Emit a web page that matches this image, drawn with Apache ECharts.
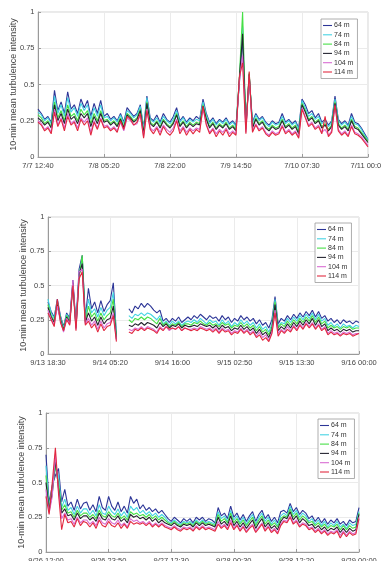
<!DOCTYPE html>
<html>
<head>
<meta charset="utf-8">
<script src="https://cdn.jsdelivr.net/npm/echarts@6/dist/echarts.min.js"></script>
<style>
  html, body { margin: 0; padding: 0; background: #fff; }
  #chart { width: 381px; height: 561px; }
</style>
</head>
<body>
<div id="chart"></div>
<script>
// legend names (measurement heights)
const heights = ['64 m', '74 m', '84 m', '94 m', '104 m', '114 m'];

// x tick labels, one every 20 samples
const ticksA = ['7/7 12:40', '7/8 05:20', '7/8 22:00', '7/9 14:50', '7/10 07:30', '7/11 00:00'];
const ticksB = ['9/13 18:30', '9/14 05:20', '9/14 16:00', '9/15 02:50', '9/15 13:30', '9/16 00:00'];
const ticksC = ['9/26 12:00', '9/26 23:50', '9/27 12:30', '9/28 00:30', '9/28 12:20', '9/29 00:00'];

// panel A: 7/7 - 7/11
const a64 = [0.33,0.30,0.26,0.28,0.24,0.46,0.32,0.38,0.30,0.45,
  0.33,0.36,0.30,0.40,0.34,0.39,0.28,0.37,0.30,0.39,
  0.28,0.30,0.26,0.28,0.25,0.30,0.24,0.34,0.31,0.28,
  0.30,0.36,0.20,0.42,0.27,0.25,0.29,0.24,0.30,0.26,
  0.24,0.28,0.34,0.25,0.28,0.24,0.27,0.25,0.28,0.26,
  0.40,0.30,0.24,0.27,0.23,0.26,0.24,0.27,0.23,0.25,
  0.22,0.50,0.82,0.22,0.55,0.24,0.30,0.26,0.28,0.24,
  0.22,0.25,0.23,0.24,0.30,0.24,0.26,0.23,0.25,0.20,
  0.40,0.36,0.30,0.32,0.27,0.30,0.24,0.26,0.22,0.25,
  0.42,0.26,0.23,0.25,0.22,0.30,0.24,0.23,0.20,0.16,0.12];
const a74 = [0.31,0.29,0.25,0.27,0.23,0.42,0.30,0.36,0.28,0.41,
  0.31,0.34,0.28,0.37,0.32,0.36,0.26,0.34,0.28,0.36,
  0.27,0.28,0.25,0.27,0.24,0.29,0.23,0.32,0.30,0.27,
  0.29,0.35,0.19,0.41,0.26,0.24,0.27,0.23,0.28,0.25,
  0.23,0.26,0.32,0.24,0.27,0.23,0.26,0.24,0.26,0.25,
  0.38,0.29,0.23,0.26,0.22,0.25,0.23,0.26,0.22,0.24,
  0.21,0.52,0.90,0.21,0.57,0.23,0.29,0.25,0.27,0.23,
  0.21,0.24,0.22,0.23,0.28,0.23,0.25,0.22,0.24,0.19,
  0.39,0.34,0.28,0.30,0.26,0.28,0.23,0.25,0.21,0.24,
  0.40,0.25,0.22,0.24,0.21,0.28,0.23,0.22,0.19,0.15,0.12];
const a84 = [0.29,0.27,0.23,0.25,0.21,0.38,0.27,0.32,0.25,0.36,
  0.28,0.30,0.25,0.33,0.29,0.32,0.23,0.30,0.25,0.32,
  0.25,0.26,0.23,0.25,0.22,0.27,0.21,0.30,0.28,0.25,
  0.27,0.33,0.17,0.38,0.24,0.22,0.25,0.21,0.26,0.23,
  0.21,0.24,0.30,0.22,0.25,0.21,0.24,0.22,0.24,0.23,
  0.36,0.27,0.21,0.24,0.20,0.23,0.21,0.24,0.20,0.22,
  0.19,0.54,1.00,0.20,0.58,0.21,0.27,0.23,0.25,0.21,
  0.19,0.22,0.20,0.21,0.26,0.21,0.23,0.20,0.22,0.17,
  0.37,0.32,0.26,0.28,0.24,0.26,0.21,0.23,0.19,0.22,
  0.38,0.23,0.20,0.22,0.19,0.26,0.21,0.20,0.17,0.14,0.11];
const a94 = [0.27,0.25,0.22,0.24,0.20,0.36,0.25,0.30,0.23,0.33,
  0.26,0.28,0.23,0.30,0.27,0.30,0.21,0.28,0.23,0.30,
  0.24,0.25,0.22,0.24,0.21,0.26,0.20,0.29,0.27,0.24,
  0.26,0.32,0.16,0.37,0.23,0.21,0.24,0.20,0.25,0.22,
  0.20,0.23,0.29,0.21,0.24,0.20,0.23,0.21,0.23,0.22,
  0.35,0.26,0.20,0.23,0.19,0.22,0.20,0.23,0.19,0.21,
  0.18,0.53,0.85,0.19,0.57,0.20,0.26,0.22,0.24,0.20,
  0.18,0.21,0.19,0.20,0.25,0.20,0.22,0.19,0.21,0.16,
  0.36,0.31,0.25,0.27,0.23,0.25,0.20,0.22,0.18,0.21,
  0.37,0.22,0.19,0.21,0.18,0.25,0.20,0.19,0.16,0.13,0.10];
const a104 = [0.25,0.23,0.19,0.21,0.17,0.33,0.22,0.27,0.20,0.30,
  0.23,0.25,0.20,0.27,0.24,0.27,0.17,0.25,0.20,0.27,
  0.21,0.22,0.19,0.21,0.18,0.24,0.18,0.27,0.25,0.22,
  0.23,0.29,0.14,0.33,0.20,0.18,0.21,0.17,0.22,0.19,
  0.17,0.20,0.26,0.18,0.21,0.17,0.20,0.18,0.20,0.19,
  0.33,0.23,0.17,0.20,0.16,0.19,0.17,0.20,0.16,0.18,
  0.16,0.52,0.70,0.17,0.56,0.18,0.23,0.19,0.21,0.17,
  0.15,0.18,0.16,0.17,0.22,0.17,0.19,0.16,0.18,0.14,
  0.34,0.28,0.22,0.24,0.20,0.22,0.17,0.19,0.15,0.18,
  0.35,0.19,0.16,0.18,0.15,0.22,0.17,0.16,0.14,0.11,0.08];
const a114 = [0.24,0.22,0.18,0.20,0.16,0.31,0.21,0.26,0.18,0.28,
  0.22,0.24,0.18,0.26,0.22,0.25,0.15,0.24,0.19,0.26,
  0.20,0.21,0.18,0.20,0.17,0.25,0.19,0.28,0.26,0.22,
  0.24,0.30,0.13,0.32,0.19,0.16,0.20,0.15,0.21,0.17,
  0.15,0.18,0.25,0.16,0.20,0.15,0.19,0.16,0.19,0.17,
  0.35,0.22,0.16,0.19,0.14,0.18,0.15,0.19,0.14,0.17,
  0.15,0.55,0.65,0.16,0.59,0.17,0.22,0.18,0.20,0.16,
  0.14,0.17,0.15,0.16,0.21,0.16,0.18,0.15,0.17,0.13,
  0.33,0.27,0.21,0.23,0.19,0.21,0.16,0.28,0.14,0.17,
  0.36,0.18,0.15,0.17,0.14,0.21,0.16,0.15,0.13,0.10,0.07];

// panel B: 9/13 - 9/16 (gap in the record after 9/14 05:20)
const b64 = [0.38,0.31,0.27,0.40,0.28,0.20,0.30,0.26,0.54,0.22,
  0.62,0.72,0.26,0.48,0.33,0.38,0.30,0.39,0.31,0.36,
  0.39,0.52,0.14,null,null,null,0.33,0.30,0.35,0.33,
  0.37,0.34,0.37,0.35,0.32,0.30,0.32,0.24,0.26,0.23,
  0.26,0.24,0.27,0.23,0.25,0.27,0.25,0.28,0.26,0.29,
  0.27,0.25,0.28,0.26,0.27,0.24,0.28,0.25,0.27,0.23,
  0.26,0.24,0.28,0.25,0.27,0.24,0.26,0.22,0.25,0.21,
  0.23,0.19,0.25,0.42,0.22,0.26,0.24,0.28,0.25,0.29,
  0.26,0.30,0.27,0.31,0.28,0.32,0.27,0.31,0.26,0.28,
  0.24,0.26,0.23,0.25,0.22,0.25,0.23,0.24,0.22,0.24,0.23];
const b74 = [0.40,0.30,0.26,0.38,0.27,0.19,0.29,0.25,0.50,0.21,
  0.58,0.70,0.25,0.40,0.30,0.33,0.27,0.34,0.28,0.32,
  0.34,0.45,0.13,null,null,null,0.28,0.26,0.29,0.28,
  0.30,0.28,0.30,0.29,0.27,0.25,0.28,0.22,0.24,0.21,
  0.24,0.22,0.24,0.21,0.23,0.24,0.23,0.25,0.23,0.26,
  0.24,0.22,0.25,0.23,0.24,0.21,0.25,0.22,0.24,0.20,
  0.23,0.21,0.25,0.22,0.24,0.21,0.23,0.19,0.22,0.18,
  0.20,0.16,0.22,0.40,0.20,0.23,0.22,0.26,0.23,0.27,
  0.24,0.28,0.25,0.29,0.26,0.30,0.25,0.29,0.24,0.26,
  0.21,0.23,0.20,0.22,0.19,0.22,0.20,0.21,0.19,0.21,0.20];
const b84 = [0.36,0.28,0.24,0.37,0.26,0.18,0.28,0.24,0.50,0.20,
  0.56,0.72,0.24,0.35,0.27,0.30,0.24,0.30,0.25,0.28,
  0.30,0.40,0.12,null,null,null,0.25,0.23,0.26,0.25,
  0.27,0.25,0.27,0.26,0.24,0.22,0.26,0.21,0.23,0.20,
  0.22,0.21,0.23,0.20,0.22,0.22,0.21,0.23,0.22,0.24,
  0.22,0.21,0.23,0.21,0.22,0.20,0.23,0.21,0.22,0.19,
  0.21,0.20,0.23,0.20,0.22,0.19,0.21,0.17,0.20,0.16,
  0.18,0.14,0.20,0.38,0.19,0.22,0.20,0.24,0.21,0.25,
  0.22,0.26,0.23,0.27,0.24,0.28,0.23,0.27,0.22,0.24,
  0.19,0.21,0.19,0.20,0.18,0.20,0.19,0.20,0.18,0.19,0.19];
const b94 = [0.34,0.27,0.23,0.36,0.25,0.17,0.27,0.23,0.52,0.19,
  0.58,0.66,0.23,0.30,0.24,0.27,0.21,0.27,0.22,0.25,
  0.26,0.35,0.11,null,null,null,0.21,0.20,0.22,0.21,
  0.23,0.21,0.23,0.22,0.21,0.19,0.23,0.20,0.22,0.19,
  0.21,0.20,0.22,0.19,0.21,0.20,0.20,0.21,0.20,0.22,
  0.21,0.20,0.21,0.19,0.21,0.18,0.21,0.19,0.20,0.17,
  0.19,0.18,0.21,0.18,0.20,0.17,0.19,0.15,0.18,0.14,
  0.16,0.12,0.18,0.36,0.17,0.20,0.18,0.22,0.19,0.23,
  0.20,0.24,0.21,0.25,0.22,0.26,0.21,0.25,0.20,0.22,
  0.17,0.19,0.17,0.18,0.16,0.18,0.17,0.18,0.16,0.17,0.17];
const b104 = [0.32,0.26,0.21,0.35,0.24,0.16,0.26,0.22,0.54,0.18,
  0.60,0.62,0.22,0.26,0.21,0.24,0.18,0.24,0.19,0.22,
  0.23,0.30,0.10,null,null,null,0.18,0.17,0.19,0.18,
  0.20,0.18,0.20,0.19,0.18,0.16,0.20,0.18,0.20,0.17,
  0.19,0.18,0.20,0.17,0.19,0.18,0.18,0.19,0.18,0.20,
  0.19,0.18,0.19,0.17,0.19,0.16,0.19,0.17,0.18,0.15,
  0.17,0.16,0.19,0.16,0.18,0.15,0.17,0.13,0.16,0.12,
  0.14,0.10,0.16,0.32,0.15,0.18,0.16,0.20,0.17,0.21,
  0.18,0.22,0.19,0.23,0.20,0.23,0.19,0.22,0.18,0.20,
  0.15,0.17,0.15,0.16,0.14,0.16,0.15,0.16,0.14,0.15,0.15];
const b114 = [0.30,0.25,0.20,0.40,0.23,0.17,0.25,0.21,0.50,0.17,
  0.55,0.60,0.21,0.24,0.19,0.22,0.16,0.22,0.17,0.20,
  0.21,0.28,0.09,null,null,null,0.16,0.15,0.18,0.17,
  0.19,0.17,0.19,0.18,0.17,0.15,0.19,0.17,0.20,0.18,
  0.19,0.18,0.20,0.17,0.19,0.18,0.17,0.18,0.17,0.19,
  0.18,0.17,0.18,0.16,0.18,0.15,0.18,0.16,0.17,0.14,
  0.16,0.15,0.18,0.15,0.17,0.14,0.16,0.12,0.14,0.10,
  0.12,0.09,0.15,0.30,0.13,0.17,0.15,0.18,0.16,0.20,
  0.17,0.21,0.18,0.22,0.19,0.22,0.18,0.21,0.17,0.19,
  0.14,0.16,0.14,0.15,0.13,0.15,0.14,0.15,0.13,0.14,0.15];

// panel C: 9/26 - 9/29
const c64 = [0.70,0.35,0.48,0.55,0.60,0.36,0.45,0.33,0.36,0.30,
  0.38,0.31,0.35,0.36,0.30,0.34,0.29,0.40,0.32,0.30,
  0.40,0.33,0.30,0.36,0.29,0.33,0.28,0.40,0.35,0.38,
  0.31,0.34,0.30,0.32,0.29,0.31,0.28,0.30,0.27,0.24,
  0.22,0.25,0.23,0.21,0.24,0.22,0.24,0.21,0.25,0.23,
  0.25,0.22,0.24,0.23,0.21,0.32,0.26,0.28,0.24,0.33,
  0.25,0.28,0.23,0.27,0.22,0.26,0.29,0.22,0.27,0.30,
  0.24,0.27,0.22,0.25,0.21,0.29,0.30,0.28,0.35,0.29,
  0.32,0.27,0.30,0.28,0.24,0.26,0.22,0.25,0.21,0.24,
  0.20,0.23,0.21,0.24,0.20,0.22,0.19,0.23,0.21,0.22,0.32];
const c74 = [0.62,0.33,0.46,0.60,0.55,0.32,0.38,0.30,0.32,0.27,
  0.33,0.28,0.31,0.31,0.27,0.30,0.26,0.34,0.28,0.27,
  0.33,0.29,0.27,0.31,0.26,0.29,0.25,0.33,0.30,0.32,
  0.28,0.30,0.27,0.29,0.26,0.28,0.25,0.27,0.25,0.22,
  0.21,0.23,0.21,0.20,0.22,0.21,0.22,0.20,0.23,0.21,
  0.23,0.21,0.22,0.21,0.20,0.29,0.24,0.26,0.22,0.30,
  0.23,0.26,0.21,0.25,0.20,0.24,0.27,0.20,0.25,0.28,
  0.22,0.25,0.20,0.23,0.19,0.26,0.28,0.26,0.33,0.27,
  0.30,0.25,0.28,0.26,0.22,0.24,0.20,0.23,0.19,0.22,
  0.18,0.21,0.19,0.22,0.18,0.20,0.17,0.21,0.19,0.20,0.29];
const c84 = [0.55,0.31,0.44,0.62,0.50,0.30,0.34,0.28,0.29,0.25,
  0.30,0.26,0.28,0.28,0.25,0.27,0.24,0.30,0.26,0.25,
  0.29,0.26,0.25,0.28,0.24,0.26,0.23,0.29,0.27,0.28,
  0.26,0.27,0.25,0.27,0.24,0.26,0.23,0.25,0.23,0.21,
  0.20,0.22,0.20,0.19,0.21,0.20,0.21,0.19,0.22,0.20,
  0.22,0.20,0.21,0.20,0.19,0.27,0.22,0.24,0.21,0.28,
  0.21,0.24,0.20,0.23,0.19,0.22,0.25,0.19,0.23,0.26,
  0.20,0.23,0.19,0.21,0.18,0.24,0.26,0.25,0.31,0.25,
  0.28,0.23,0.26,0.24,0.21,0.22,0.19,0.21,0.18,0.20,
  0.17,0.19,0.18,0.20,0.16,0.19,0.16,0.19,0.17,0.18,0.28];
const c94 = [0.50,0.30,0.42,0.66,0.46,0.28,0.31,0.26,0.27,0.23,
  0.28,0.24,0.26,0.26,0.23,0.25,0.22,0.28,0.24,0.23,
  0.27,0.24,0.23,0.26,0.22,0.24,0.21,0.27,0.25,0.26,
  0.24,0.25,0.23,0.25,0.22,0.24,0.21,0.23,0.21,0.20,
  0.19,0.21,0.19,0.18,0.20,0.19,0.20,0.18,0.21,0.19,
  0.21,0.19,0.20,0.19,0.18,0.25,0.20,0.22,0.19,0.26,
  0.19,0.22,0.18,0.21,0.17,0.20,0.23,0.17,0.21,0.24,
  0.18,0.21,0.17,0.19,0.16,0.22,0.25,0.24,0.29,0.23,
  0.26,0.21,0.24,0.22,0.19,0.20,0.17,0.19,0.16,0.18,
  0.15,0.17,0.16,0.18,0.14,0.17,0.14,0.17,0.15,0.16,0.27];
const c104 = [0.45,0.28,0.40,0.70,0.44,0.24,0.28,0.23,0.24,0.20,
  0.25,0.21,0.23,0.23,0.20,0.22,0.19,0.25,0.21,0.20,
  0.24,0.21,0.20,0.23,0.19,0.21,0.18,0.24,0.22,0.23,
  0.21,0.22,0.20,0.22,0.19,0.21,0.19,0.21,0.19,0.18,
  0.17,0.19,0.17,0.16,0.18,0.17,0.18,0.16,0.19,0.17,
  0.19,0.17,0.18,0.17,0.16,0.22,0.18,0.20,0.17,0.23,
  0.17,0.20,0.16,0.19,0.15,0.18,0.20,0.15,0.18,0.21,
  0.16,0.19,0.15,0.17,0.14,0.20,0.23,0.22,0.26,0.21,
  0.23,0.19,0.21,0.20,0.17,0.18,0.15,0.17,0.14,0.16,
  0.13,0.15,0.14,0.16,0.12,0.15,0.12,0.15,0.13,0.14,0.25];
const c114 = [0.40,0.27,0.50,0.75,0.42,0.16,0.27,0.21,0.22,0.18,
  0.24,0.19,0.22,0.21,0.18,0.21,0.17,0.23,0.19,0.18,
  0.22,0.19,0.18,0.21,0.17,0.20,0.17,0.22,0.20,0.21,
  0.20,0.21,0.19,0.21,0.18,0.20,0.18,0.20,0.18,0.17,
  0.16,0.18,0.16,0.15,0.17,0.16,0.17,0.15,0.18,0.16,
  0.18,0.16,0.17,0.16,0.15,0.20,0.17,0.19,0.16,0.21,
  0.16,0.19,0.15,0.18,0.14,0.17,0.19,0.14,0.17,0.20,
  0.15,0.18,0.14,0.16,0.13,0.19,0.22,0.21,0.25,0.20,
  0.22,0.18,0.20,0.19,0.16,0.17,0.14,0.16,0.13,0.15,
  0.12,0.14,0.13,0.15,0.10,0.14,0.11,0.14,0.12,0.13,0.24];

const palette = ['#2c3597', '#43d3e3', '#45df45', '#23232e', '#d86ad2', '#e2283f'];
const font = "'Liberation Sans', Arial, sans-serif";

const panels = [
  { ticks: ticksA, data: [a64, a74, a84, a94, a104, a114],
    grid: { left: 38, top: 12, width: 330, height: 145 }, legend: { left: 321, top: 19 } },
  { ticks: ticksB, data: [b64, b74, b84, b94, b104, b114],
    grid: { left: 48, top: 217, width: 311, height: 137 }, legend: { left: 315, top: 223 } },
  { ticks: ticksC, data: [c64, c74, c84, c94, c104, c114],
    grid: { left: 46, top: 413, width: 313, height: 139 }, legend: { left: 318, top: 419 } }
];

const option = {
  backgroundColor: '#fff',
  animation: false,
  textStyle: { fontFamily: font },
  grid: [], xAxis: [], yAxis: [], legend: [], series: []
};

panels.forEach((p, k) => {
  const step = (p.data[0].length - 1) / (p.ticks.length - 1);
  option.grid.push(Object.assign({
    show: true, borderColor: '#d4d4d4', borderWidth: 1,
    containLabel: false, outerBoundsMode: 'none'
  }, p.grid));
  option.xAxis.push({
    type: 'category', gridIndex: k, boundaryGap: false,
    data: p.data[0].map((_, i) => i),
    axisLine: { lineStyle: { color: '#9a9a9a', width: 1 } },
    axisTick: { inside: true, length: 3, interval: step - 1, lineStyle: { color: '#9a9a9a' } },
    axisLabel: { interval: step - 1, fontSize: 7.5, color: '#444', margin: 5,
      formatter: (v, i) => p.ticks[Math.round(i / step)] },
    splitLine: { show: true, interval: step - 1, lineStyle: { color: '#ebebeb', width: 1 } }
  });
  option.yAxis.push({
    type: 'value', gridIndex: k, min: 0, max: 1, interval: 0.25,
    name: '10-min mean turbulence intensity', nameLocation: 'middle',
    nameGap: 24, nameMoveOverlap: false,
    nameTextStyle: { fontSize: 9, color: '#444', verticalAlign: 'middle' },
    axisLine: { show: true, lineStyle: { color: '#9a9a9a', width: 1 } },
    axisTick: { show: true, inside: true, length: 3, lineStyle: { color: '#9a9a9a' } },
    axisLabel: { fontSize: 7.5, color: '#444', margin: 3.5 },
    splitLine: { show: true, lineStyle: { color: '#ebebeb', width: 1 } }
  });
  option.legend.push({
    orient: 'vertical', left: p.legend.left, top: p.legend.top,
    data: heights, icon: 'path://M0,0L1,0L1,0.12L0,0.12Z',
    itemWidth: 9, itemHeight: 7, itemGap: 2.3,
    padding: [3, 4, 3, 2],
    borderColor: '#9a9a9a', borderWidth: 0.8, backgroundColor: '#fff',
    textStyle: { fontSize: 7, color: '#333', padding: [0, 0, 0, -3] }
  });
  p.data.forEach((vals, j) => {
    option.series.push({
      name: heights[j], type: 'line', xAxisIndex: k, yAxisIndex: k,
      data: vals, showSymbol: false, symbol: 'none', connectNulls: false,
      color: palette[j],
      lineStyle: { width: 1.1, color: palette[j] }
    });
  });
});

const chart = echarts.init(document.getElementById('chart'));
chart.setOption(option);
</script>
</body>
</html>
